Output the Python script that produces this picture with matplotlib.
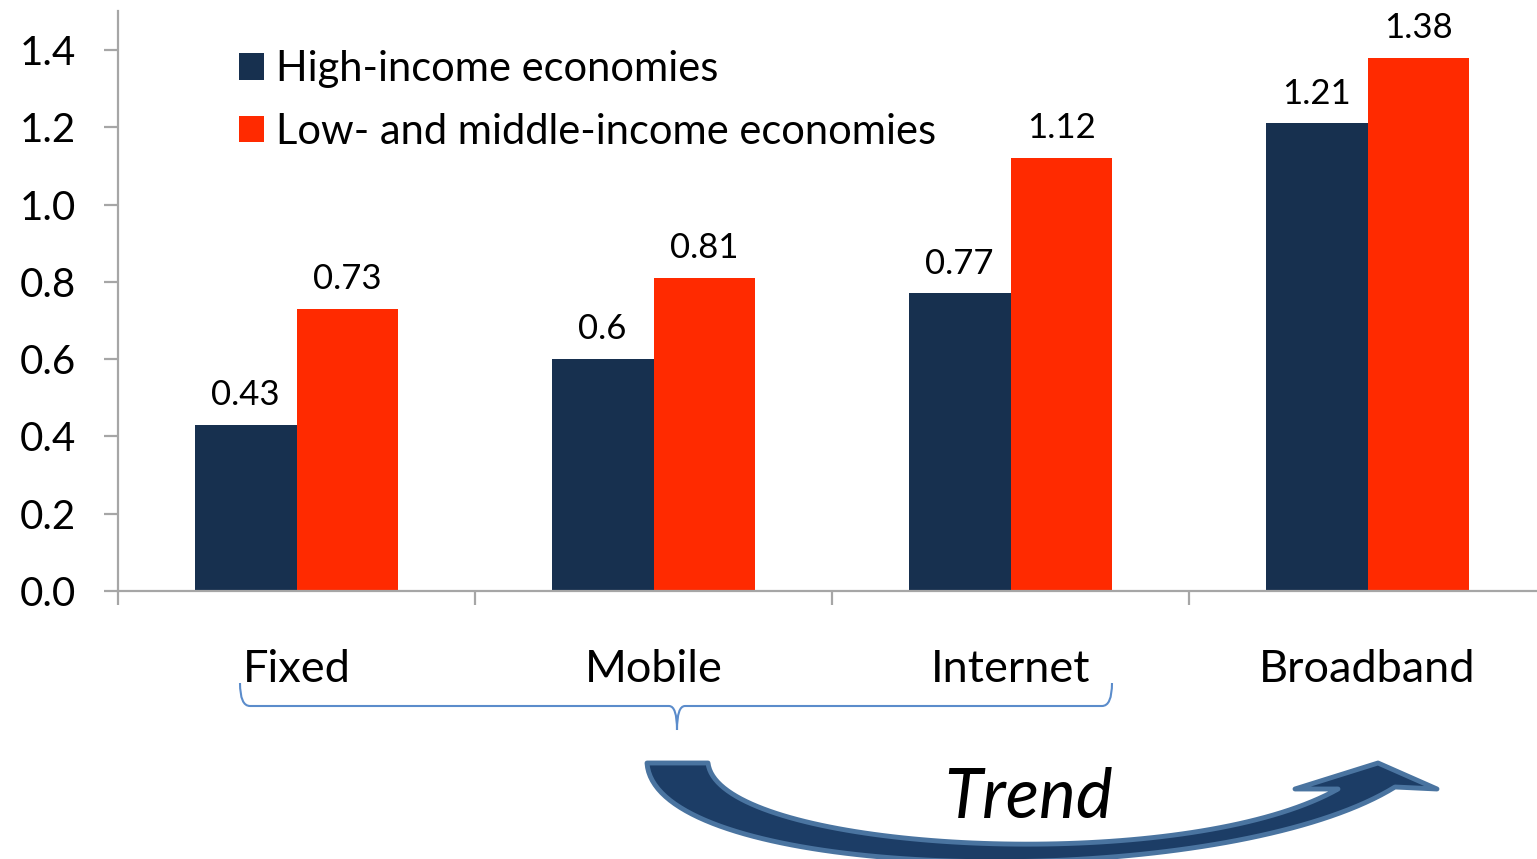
import numpy as np
import matplotlib
matplotlib.use("Agg")
import matplotlib.pyplot as plt
from matplotlib.path import Path
from matplotlib.patches import PathPatch

# data
categories = ["Fixed", "Mobile", "Internet", "Broadband"]
high_income = [0.43, 0.6, 0.77, 1.21]
low_mid_income = [0.73, 0.81, 1.12, 1.38]
series_names = ["High-income economies", "Low- and middle-income economies"]
yticks = [0.0, 0.2, 0.4, 0.6, 0.8, 1.0, 1.2, 1.4]

NAVY = "#17304f"
RED = "#ff2a00"
GRAY = "#a6a6a6"
FONT = "Lato"

W, H = 1537, 859
fig = plt.figure(figsize=(W / 100, H / 100), dpi=100)
plt.rcParams['font.family'] = [FONT, 'DejaVu Sans']


def px(x, y):
    # pixel position -> figure fraction
    return (x / W, 1 - y / H)


ax = fig.add_axes([118 / W, 1 - 591 / H, (1546 - 118) / W, (591 - 11.4) / H])

x = np.arange(len(categories))
bw = 0.2857
b1 = ax.bar(x - bw / 2, high_income, bw, color=NAVY, label=series_names[0])
b2 = ax.bar(x + bw / 2, low_mid_income, bw, color=RED, label=series_names[1])

for bars, vals in ((b1, high_income), (b2, low_mid_income)):
    for r, v in zip(bars, vals):
        ax.annotate(f"{v:g}", (r.get_x() + r.get_width() / 2, v),
                    xytext=(0, 10), textcoords="offset points",
                    ha="center", va="bottom", fontsize=25, color="black")

ax.set_xlim(-0.5, 3.5)
ax.set_ylim(0, 1.5)
ax.set_yticks(yticks)
ax.set_yticklabels([f"{t:.1f}" for t in yticks])
ax.set_xticks(x)
ax.set_xticklabels(categories)
ax.set_xticks(np.arange(len(categories)) - 0.5, minor=True)

for s in ("top", "right"):
    ax.spines[s].set_visible(False)
for s in ("left", "bottom"):
    ax.spines[s].set_color(GRAY)
    ax.spines[s].set_linewidth(1.6)

ax.tick_params(axis="y", direction="out", length=10, width=1.6, color=GRAY,
               labelsize=29, pad=20)
ax.tick_params(axis="x", which="major", length=0, labelsize=32.5, pad=42)
ax.tick_params(axis="x", which="minor", direction="out", length=10,
               width=1.6, color=GRAY)

leg = ax.legend(loc="upper left", bbox_to_anchor=(0.073, 0.962), frameon=False,
                fontsize=30, handlelength=0.6, handleheight=0.6,
                handletextpad=0.3, labelspacing=0.59, borderaxespad=0)

# brace under Fixed..Internet
bc = "#5b8ccb"
xl, xr, xm = 240, 1112, 677
yt, yh, yb = 683, 706, 730
codes = [Path.MOVETO, Path.CURVE3, Path.CURVE3,
         Path.LINETO, Path.CURVE3, Path.CURVE3]
left_half = [px(xl, yt), px(xl, yh), px(xl + 10, yh),
             px(xm - 8, yh), px(xm, yh), px(xm, yb)]
right_half = [px(xr, yt), px(xr, yh), px(xr - 10, yh),
              px(xm + 8, yh), px(xm, yh), px(xm, yb)]
for vv in (left_half, right_half):
    fig.patches.append(PathPatch(Path(vv, codes), fill=False, edgecolor=bc,
                                 linewidth=1.5, transform=fig.transFigure))


# curved trend arrow
def cubic(p0, c1, c2, p3, n=80):
    t = np.linspace(0, 1, n)[:, None]
    p0, c1, c2, p3 = map(np.array, (p0, c1, c2, p3))
    return ((1 - t) ** 3 * p0 + 3 * t * (1 - t) ** 2 * c1
            + 3 * t ** 2 * (1 - t) * c2 + t ** 3 * p3)


outer = cubic((647, 763), (655, 885), (1220, 895), (1395, 787))
inner = cubic((708, 763), (718, 852), (1180, 878), (1338, 789))
head = np.array([(1437, 789), (1378, 763), (1295, 789)])
pts = np.vstack([outer, head, inner[::-1]])
pts_fig = np.array([px(a, b) for a, b in pts])
arrow = plt.Polygon(pts_fig, closed=True, facecolor="#1c3d66",
                    edgecolor="#4a74a0", linewidth=3.5, joinstyle="round",
                    transform=fig.transFigure)
fig.patches.append(arrow)

fig.text(*px(1028, 798), "Trend", fontsize=50, style="italic",
         ha="center", va="center", color="black")

fig.savefig("out.png", dpi=100)
